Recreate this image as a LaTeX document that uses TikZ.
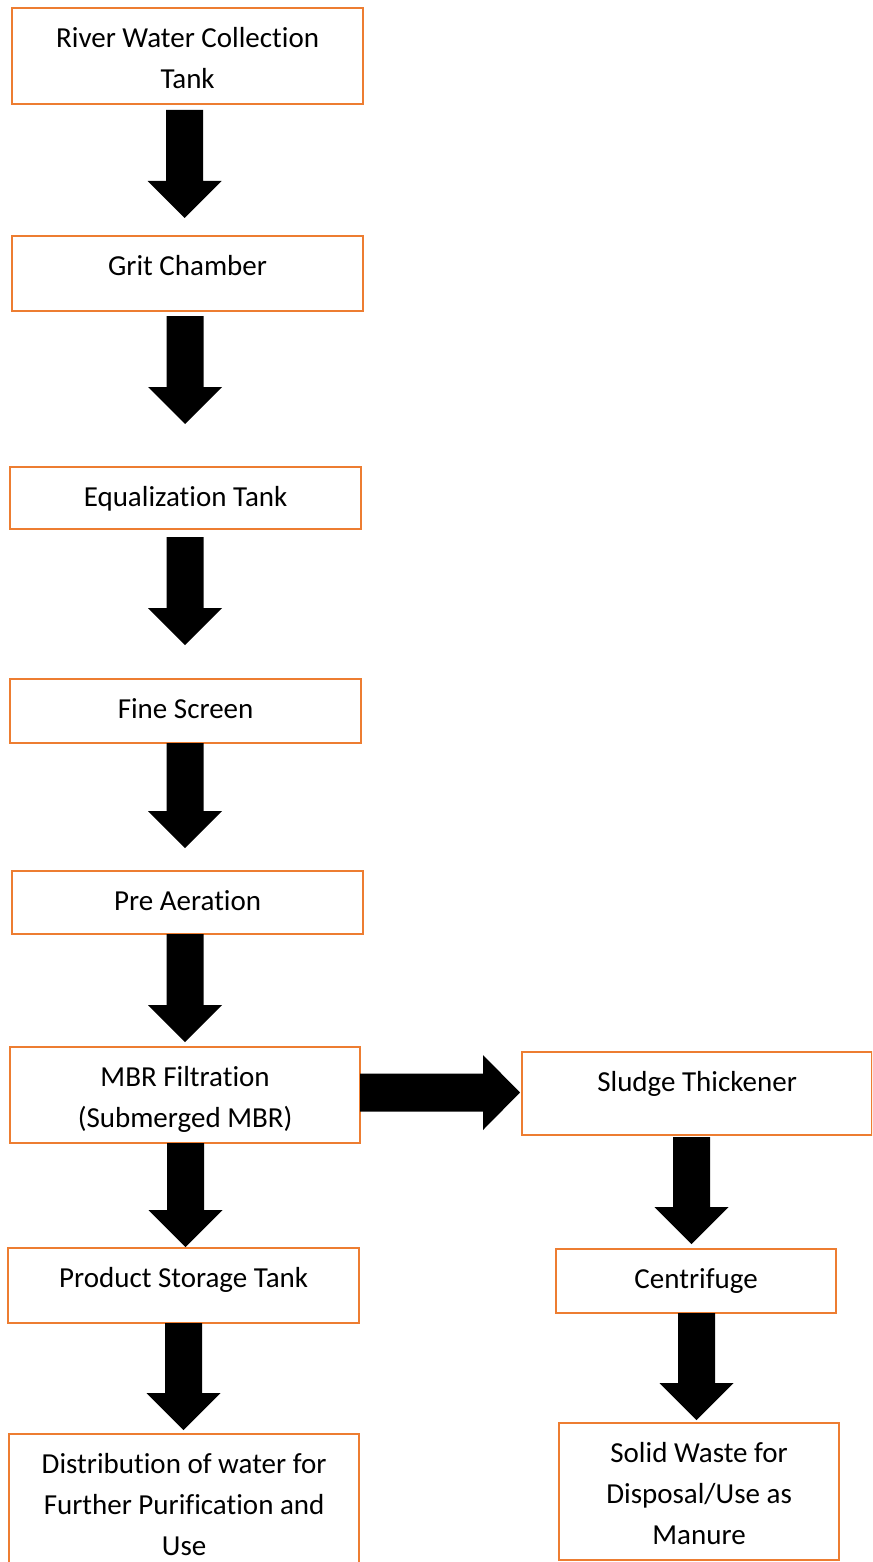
\documentclass[tikz,border=0pt]{standalone}
\usepackage{fontspec}
\setmainfont{Carlito}[RawFeature={-liga;-clig;-calt;-dlig;-rlig}]
\definecolor{orng}{HTML}{ED7D31}
\newcommand{\sttxt}[3]{\parbox[c][#2pt][t]{#1pt}{\centering\rule{0pt}{39pt}#3}}
% down block arrow: x centre, top of shaft, tip (pixel units, measured downward)
\newcommand{\dnarr}[3]{\fill[black] (#1-18.5,-#2) -- (#1+18.5,-#2) -- (#1+18.5,-#3+37) -- (#1+37,-#3+37) -- (#1,-#3) -- (#1-37,-#3+37) -- (#1-18.5,-#3+37) -- cycle;}
\begin{document}
\begin{tikzpicture}[x=1pt,y=1pt,
  stage/.style={draw=orng, line width=2.2pt, inner sep=0pt, anchor=north west,
    font=\fontsize{29}{41}\selectfont, text=black}]
\useasboundingbox (0,0) rectangle (872,-1562);
\fill[white] (0,0) rectangle (872,-1562);
\begin{scope}
\clip (0,0) rectangle (872,-1562);
% stages
\node[stage] (b1) at (11,-7) {\sttxt{351}{96}{River Water Collection\\Tank}};
\node[stage] (b2) at (11,-235) {\sttxt{351}{75}{Grit Chamber}};
\node[stage] (b3) at (9,-466) {\sttxt{351}{62}{Equalization Tank}};
\node[stage] (b4) at (9,-678) {\sttxt{351}{64}{Fine Screen}};
\node[stage] (b5) at (11,-870) {\sttxt{351}{63}{Pre Aeration}};
\node[stage] (b6) at (9,-1046) {\sttxt{350}{96}{MBR Filtration\\(Submerged MBR)}};
\node[stage] (b7) at (521,-1051) {\sttxt{350}{83}{Sludge Thickener}};
\node[stage] (b8) at (7,-1247) {\sttxt{351}{75}{Product Storage Tank}};
\node[stage] (b9) at (555,-1248) {\sttxt{280}{64}{Centrifuge}};
\node[stage] (b10) at (8,-1433) {\sttxt{350}{150}{Distribution of water for\\Further Purification and\\Use}};
\node[stage] (b11) at (558,-1422) {\sttxt{280}{137}{Solid Waste for\\Disposal/Use as\\Manure}};
% block arrows
\dnarr{184.5}{110}{218}   % b1 -> b2
\dnarr{185}{316}{424}     % b2 -> b3
\dnarr{185}{537}{645}     % b3 -> b4
\dnarr{185}{743}{848}     % b4 -> b5
\dnarr{185}{934}{1042}    % b5 -> b6
\dnarr{185.5}{1143}{1247} % b6 -> b8
\dnarr{183.5}{1323}{1430} % b8 -> b10
\dnarr{691.5}{1137}{1244} % b7 -> b9
\dnarr{696.5}{1313}{1420} % b9 -> b11
\fill[black] (360,-1073.5) -- (483,-1073.5) -- (483,-1055) -- (520,-1092.5)
  -- (483,-1130) -- (483,-1111.5) -- (360,-1111.5) -- cycle; % b6 -> b7
\end{scope}
\end{tikzpicture}
\end{document}
